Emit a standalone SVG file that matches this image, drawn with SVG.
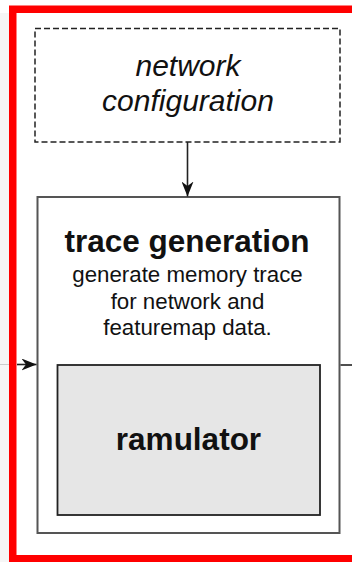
<svg xmlns="http://www.w3.org/2000/svg" width="352" height="562" viewBox="0 0 352 562">
  <style>
    .t { font-family: "Liberation Sans", Arial, sans-serif; fill: #111; text-anchor: middle; }
    .conn { stroke: #222; stroke-width: 1.6; fill: none; }
  </style>
  <defs>
    <marker id="arr" markerUnits="userSpaceOnUse" markerWidth="15" markerHeight="12" viewBox="0 0 15 12" refX="15" refY="6" orient="auto">
      <path d="M0,0 L15,6 L0,12 L4.5,6 z" fill="#111"/>
    </marker>
  </defs>
  <rect x="0" y="0" width="352" height="562" fill="#ffffff"/>
  <rect x="0" y="13" width="9" height="549" fill="#f6f6f6"/>
  <line x1="0" y1="364.5" x2="9" y2="364.5" stroke="#cccccc" stroke-width="1"/>

  <g id="frame">
    <rect x="12.75" y="9.25" width="420" height="549.5" fill="none" stroke="#ff0000" stroke-width="7.5"/>
  </g>

  <g id="network-configuration">
    <rect x="35" y="28.5" width="305" height="113.5" fill="#ffffff" stroke="#222" stroke-width="1.5" stroke-dasharray="6 3"/>
    <text class="t" x="188" y="75.5" font-size="30" font-style="italic">network</text>
    <text class="t" x="188" y="110.5" font-size="30" font-style="italic">configuration</text>
  </g>

  <g id="trace-generation">
    <rect x="37.5" y="197" width="302" height="336" fill="#ffffff" stroke="#555" stroke-width="2"/>
    <text class="t" x="187" y="251.5" font-size="31.5" font-weight="bold">trace generation</text>
    <text class="t" x="187.5" y="282" font-size="22.3">generate memory trace</text>
    <text class="t" x="187.5" y="308.5" font-size="22.3">for network and</text>
    <text class="t" x="187.5" y="335" font-size="22.3">featuremap data.</text>
  </g>

  <g id="ramulator">
    <rect x="57.5" y="365" width="262.5" height="150" fill="#e6e6e6" stroke="#222" stroke-width="1.8"/>
    <text class="t" x="188.5" y="450" font-size="31.5" font-weight="bold">ramulator</text>
  </g>

  <g id="connectors">
    <line class="conn" x1="187.5" y1="142" x2="187.5" y2="196.5" marker-end="url(#arr)"/>
    <line class="conn" x1="17" y1="364.5" x2="36.5" y2="364.5" marker-end="url(#arr)"/>
    <line class="conn" x1="340.5" y1="365" x2="352" y2="365"/>
  </g>
</svg>
